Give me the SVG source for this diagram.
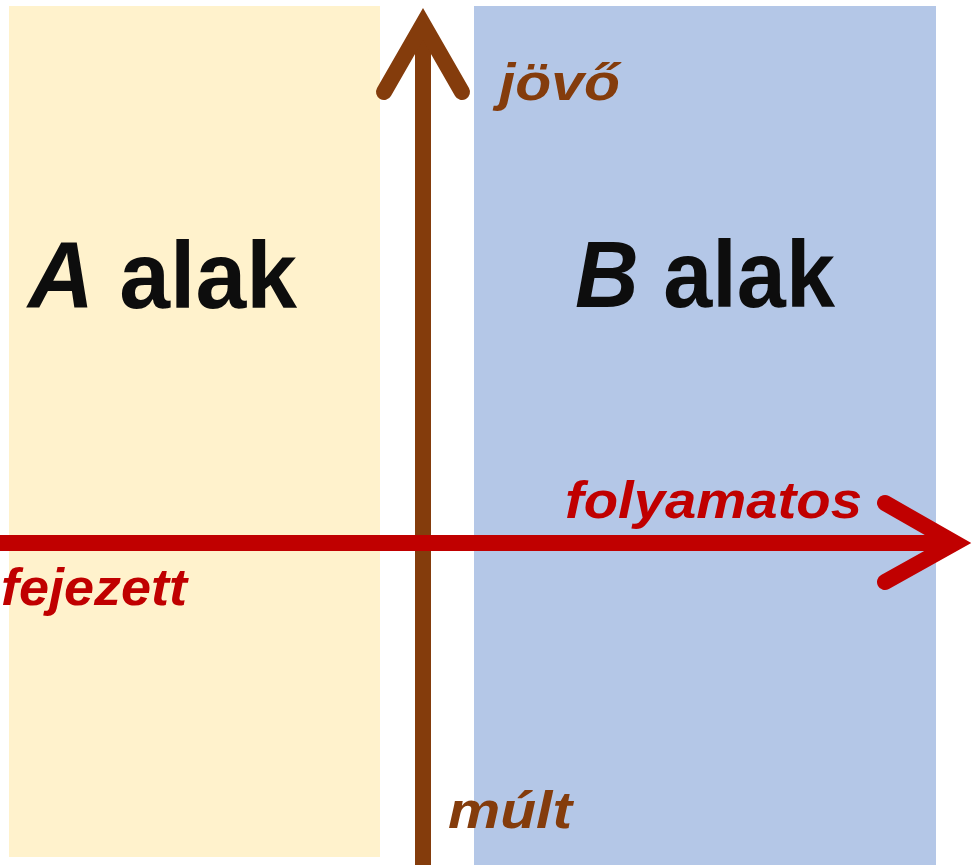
<svg xmlns="http://www.w3.org/2000/svg" width="972" height="865" viewBox="0 0 972 865">
<style>
.big{font-family:"Liberation Sans",Arial,sans-serif;font-weight:bold;font-size:94px;fill:#0D0D0D}
.lbl{font-family:"Liberation Sans",Arial,sans-serif;font-weight:bold;font-style:italic;font-size:52px}
.brown{fill:#843C0C}
.red{fill:#C00000}
.arr{fill:none;stroke-width:16;stroke-linecap:round;stroke-linejoin:miter;stroke-miterlimit:10}
</style>
<rect width="972" height="865" fill="#FFFFFF"/>
<g id="nodeA">
<rect x="9" y="6" width="371" height="851" fill="#FFF2CC"/>
<text class="big" x="28" y="308" textLength="269" lengthAdjust="spacingAndGlyphs"><tspan font-style="italic">A</tspan> alak</text>
</g>
<g id="nodeB">
<rect x="474" y="6" width="462" height="859" fill="#B4C7E7"/>
<text class="big" x="575" y="307" textLength="260" lengthAdjust="spacingAndGlyphs"><tspan font-style="italic">B</tspan> alak</text>
</g>
<g id="connectors">
<line x1="423" y1="865" x2="423" y2="26" stroke="#843C0C" stroke-width="16"/>
<polyline class="arr" points="384,92 423,24 462,92" stroke="#843C0C"/>
<line x1="0" y1="543" x2="952" y2="543" stroke="#C00000" stroke-width="16"/>
<polyline class="arr" points="885,503 955,543 885,582" stroke="#C00000"/>
</g>
<g id="labels">
<text class="lbl brown" x="499" y="100" textLength="121" lengthAdjust="spacingAndGlyphs">jövő</text>
<text class="lbl brown" x="448" y="828" textLength="124" lengthAdjust="spacingAndGlyphs">múlt</text>
<text class="lbl red" x="565" y="518" textLength="297" lengthAdjust="spacingAndGlyphs">folyamatos</text>
<text class="lbl red" x="1" y="605" textLength="186" lengthAdjust="spacingAndGlyphs">fejezett</text>
</g>
</svg>
